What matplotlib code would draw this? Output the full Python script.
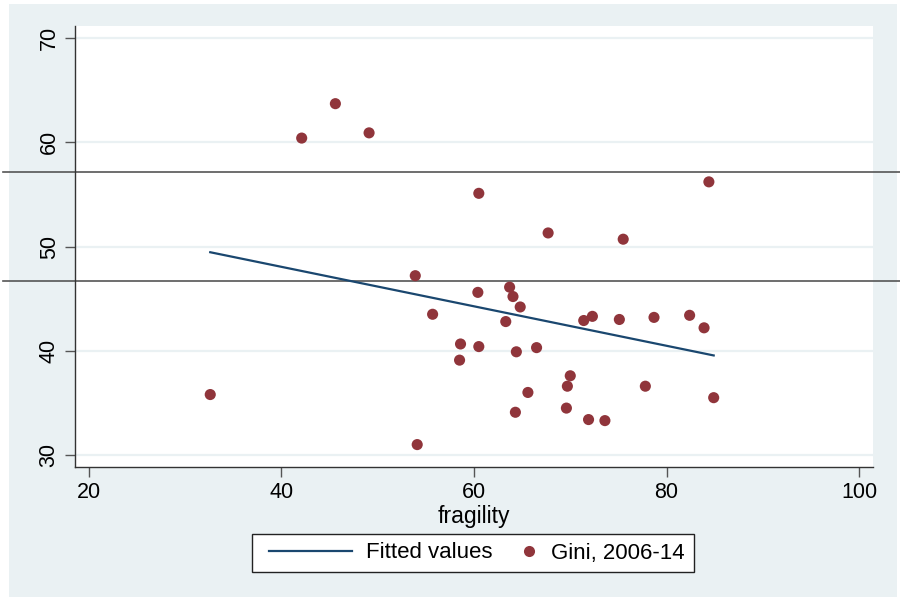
import matplotlib
matplotlib.use("Agg")
import matplotlib.pyplot as plt
from matplotlib.patches import Rectangle
from matplotlib.lines import Line2D
from matplotlib.legend_handler import HandlerBase

# Data
fragility = [32.6, 42.1, 45.6, 49.1, 60.5, 53.9, 55.7, 67.7, 75.5, 84.4,
             60.4, 63.7, 64.05, 64.8, 63.3, 58.6, 60.5, 58.5, 64.4, 66.5,
             71.4, 72.3, 75.1, 78.7, 82.4, 83.9, 70.0, 69.7, 65.6, 77.8,
             64.3, 69.6, 71.9, 73.6, 84.9, 54.1]
gini = [35.8, 60.4, 63.7, 60.9, 55.1, 47.2, 43.5, 51.3, 50.7, 56.2,
        45.6, 46.1, 45.2, 44.2, 42.8, 40.65, 40.4, 39.1, 39.9, 40.3,
        42.9, 43.3, 43.0, 43.2, 43.4, 42.2, 37.6, 36.6, 36.0, 36.6,
        34.1, 34.5, 33.4, 33.3, 35.5, 31.0]
fit_x = [32.6, 84.9]
fit_y = [49.45, 39.55]
ref_lines = [57.15, 46.7]
x_ticks = [20, 40, 60, 80, 100]
y_ticks = [30, 40, 50, 60, 70]

plt.rcParams['font.family'] = ['Liberation Sans', 'DejaVu Sans']

bg = '#EAF1F3'
grid_c = '#EAF1F3'
navy = '#1A476F'
maroon = '#90353B'

fig = plt.figure(figsize=(9, 5.97), dpi=100)
fig.patch.set_facecolor('white')
fig.patches.append(Rectangle((9/900, 0), (897-9)/900, 1-4/597,
                             transform=fig.transFigure, facecolor=bg,
                             edgecolor='none', zorder=-5))

ax = fig.add_axes([75/900, 1-467/597, (873-75)/900, (467-26)/597])
ax.set_zorder(1)
ax.set_facecolor('white')
ax.set_xlim(18.55, 101.45)
ax.set_ylim(28.85, 71.15)

for y in y_ticks:
    ax.axhline(y, color=grid_c, lw=1.6, zorder=1)

for y in ref_lines:
    ax.axhline(y, xmin=(3-75)/798, xmax=1.05, color='#555555', lw=1.2,
               clip_on=False, zorder=2)

ax.plot(fit_x, fit_y, color=navy, lw=1.6, zorder=3)
ax.scatter(fragility, gini, s=64, color=maroon, edgecolors='none', zorder=4)

for s in ['top', 'right']:
    ax.spines[s].set_visible(False)
for s in ['left', 'bottom']:
    ax.spines[s].set_color('#333333')
    ax.spines[s].set_linewidth(1.0)

ax.set_xticks(x_ticks)
ax.set_yticks(y_ticks)
ax.tick_params(axis='both', length=7, width=1, color='#555555',
               labelsize=15.5, pad=4)
ax.set_yticklabels([str(v) for v in y_ticks], rotation=90, va='center')
ax.set_xlabel('fragility', fontsize=16.5, labelpad=1)


class RightMarker(HandlerBase):
    def create_artists(self, legend, orig_handle, xdescent, ydescent,
                       width, height, fontsize, trans):
        m = Line2D([width - xdescent - 6], [height / 2 - ydescent],
                   marker='o', ls='none', markersize=8, markeredgewidth=0,
                   color=maroon)
        m.set_transform(trans)
        return [m]


class InsetLine(HandlerBase):
    def create_artists(self, legend, orig_handle, xdescent, ydescent,
                       width, height, fontsize, trans):
        y = height / 2 - ydescent
        ln = Line2D([-xdescent + 6, width - xdescent], [y, y],
                    color=navy, lw=1.6)
        ln.set_transform(trans)
        return [ln]


line_h = Line2D([], [], color=navy, lw=1.6)
dot_h = Line2D([], [], color=maroon, marker='o', ls='none')
fs = 16
px_per_em = fs * 100 / 72
leg = fig.legend([line_h, dot_h], ['Fitted values', 'Gini, 2006-14'],
                 loc='center', bbox_to_anchor=(473/900, 1-553/597), ncol=2,
                 fontsize=fs, frameon=True, fancybox=False,
                 edgecolor='#222222', handlelength=91/px_per_em,
                 handletextpad=14/px_per_em,
                 columnspacing=-46/px_per_em, borderpad=0.4,
                 handler_map={dot_h: RightMarker(), line_h: InsetLine()})
leg.get_frame().set_linewidth(1.0)
leg.get_frame().set_facecolor('white')
leg.get_frame().set_alpha(1)

fig.savefig('out.png', dpi=100)
